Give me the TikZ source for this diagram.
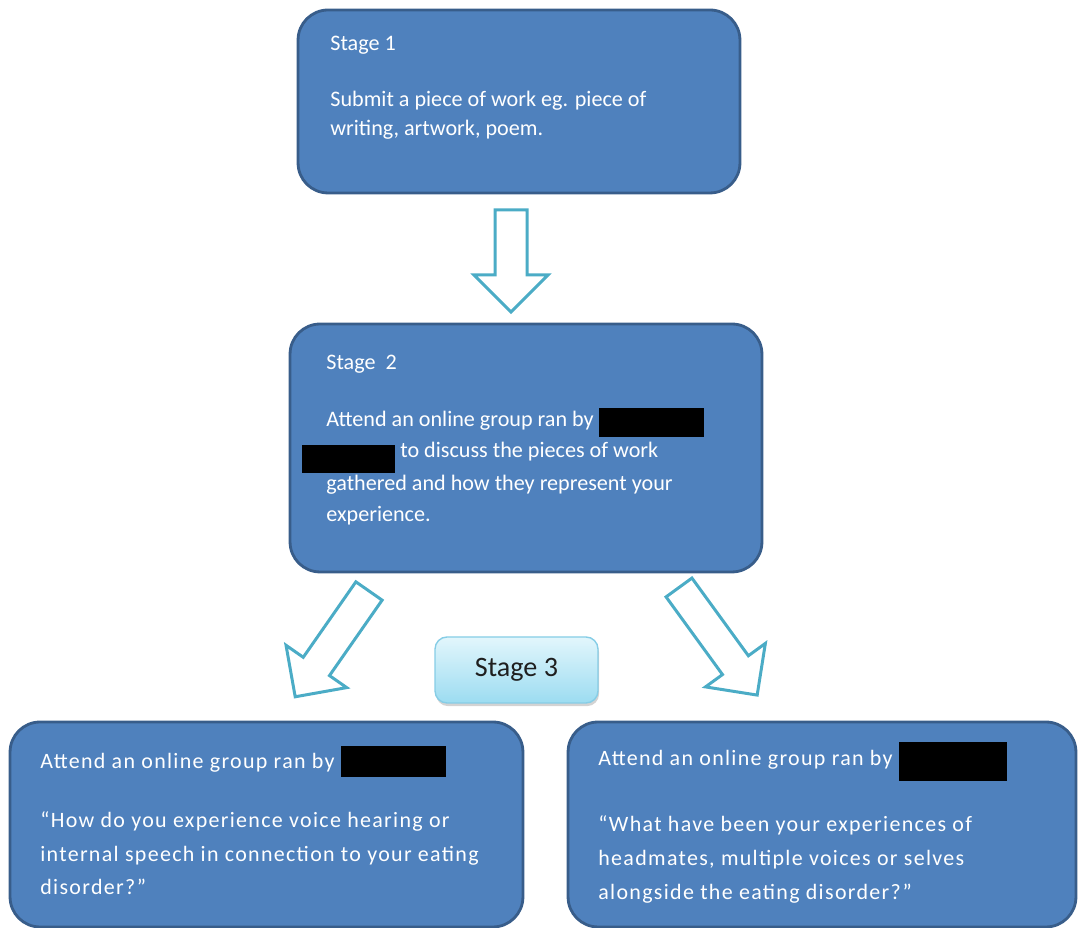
\documentclass[tikz,border=0pt]{standalone}
\usepackage{fontspec}
\setmainfont{Carlito}
\usepackage{tikz}
\usetikzlibrary{calc,shadows}
\usepackage{xcolor}

\definecolor{boxfill}{HTML}{4F81BD}
\definecolor{boxline}{HTML}{385D8A}
\definecolor{arrowline}{HTML}{4BACC6}
\definecolor{stagetop}{HTML}{E2F6FC}
\definecolor{stagebot}{HTML}{9CDCF1}
\definecolor{stageline}{HTML}{86CDE6}
\definecolor{stagetext}{HTML}{1F1F1F}

\tikzset{
  stagebox/.style={draw=boxline,line width=1.6pt,fill=boxfill,rounded corners=0.6cm,inner sep=0pt},
  linetext/.style={anchor=base west,inner sep=0pt,text=white,font=\fontsize{12.6}{14}\selectfont},
  groupline/.style={linetext,font=\fontsize{12.5}{14}\selectfont\addfontfeature{LetterSpace=6}},
  hollowarrow/.style={draw=arrowline,line width=1.7pt,fill=white,line join=miter},
  labelbox/.style={draw=stageline,line width=0.8pt,rounded corners=0.24cm,top color=stagetop,bottom color=stagebot,
    drop shadow={shadow xshift=0.6pt,shadow yshift=-1.8pt,opacity=0.35},inner sep=0pt}
}

% black bar over a hidden name: depth, width, height
\newcommand{\blackout}[3]{\textcolor{black}{\rule[-#1]{#2}{#3}}}

% hollow block arrow: start, angle, length (px units)
\newcommand{\blockarrow}[3]{%
  \begin{scope}[shift={(#1)},rotate=#2]
    \draw[hollowarrow] (0,-16) -- ({#3-37},-16) -- ({#3-37},-37) -- (#3,0)
      -- ({#3-37},37) -- ({#3-37},16) -- (0,16) -- cycle;
  \end{scope}}

\begin{document}
\begin{tikzpicture}[x=0.02cm,y=0.02cm]
\useasboundingbox (0,0) rectangle (1078,928);

% boxes
\node[stagebox,minimum width=8.84cm,minimum height=3.66cm] (box1) at (519,826.5) {};
\node[stagebox,minimum width=9.44cm,minimum height=4.96cm] (box2) at (526,480) {};
\node[stagebox,minimum width=10.26cm,minimum height=4.1cm] (boxl) at (266.5,103.5) {};
\node[stagebox,minimum width=10.16cm,minimum height=4.1cm] (boxr) at (822,103.5) {};
\node[labelbox,minimum width=3.26cm,minimum height=1.32cm,text=stagetext,font=\fontsize{16}{18}\selectfont] (stage3) at (516.5,258) {Stage 3};

% stage 1 text
\node[linetext] (s1t) at (330,877) {Stage 1};
\node[linetext] (s1a) at (330,821) {Submit a piece of work eg. piece of};
\node[linetext] (s1b) at (330,792) {writing, artwork, poem.};

% stage 2 text
\node[linetext] (s2t) at (326,558) {Stage\ \ 2};
\node[linetext] (s2a) at (326,501) {Attend an online group ran by \blackout{0.2cm}{2.1cm}{0.58cm}};
\node[linetext] (s2b) at (302,470) {\blackout{0.3cm}{1.86cm}{0.56cm} to discuss the pieces of work};
\node[linetext] (s2c) at (326,437) {gathered and how they represent your};
\node[linetext] (s2d) at (326,406) {experience.};

% left group text
\node[groupline] (lt) at (40,159) {Attend an online group ran by \blackout{0.16cm}{2.1cm}{0.62cm}};
\node[groupline] (la) at (40,100) {“How do you experience voice hearing or};
\node[groupline] (lb) at (40,66) {internal speech in connection to your eating};
\node[groupline] (lc) at (40,33) {disorder?”};

% right group text
\node[groupline] (rt) at (598,162) {Attend an online group ran by \blackout{0.3cm}{2.16cm}{0.78cm}};
\node[groupline] (ra) at (598,96) {“What have been your experiences of};
\node[groupline] (rb) at (598,62) {headmates, multiple voices or selves};
\node[groupline] (rc) at (598,28) {alongside the eating disorder?”};

% arrows
\coordinate (a1) at (511,718);
\coordinate (a2) at (369,337);
\coordinate (a3) at (679,340.5);
\blockarrow{a1}{-90}{102}
\blockarrow{a2}{-124.9}{129}
\blockarrow{a3}{-54}{133}
\end{tikzpicture}
\end{document}
